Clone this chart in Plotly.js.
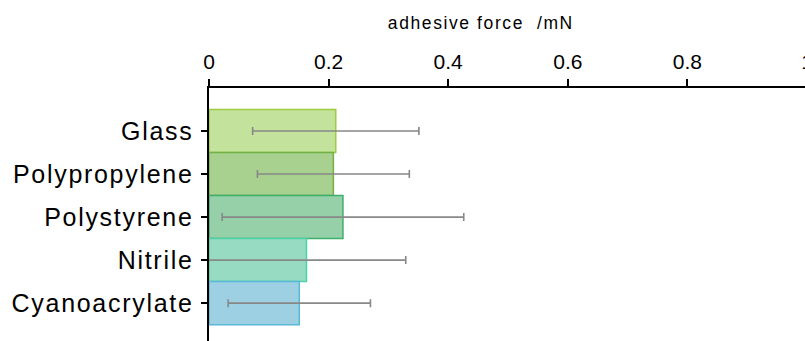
<!DOCTYPE html>
<html>
<head>
<meta charset="utf-8">
<script src="https://cdn.plot.ly/plotly-3.0.1.min.js"></script>
<style>
html,body{margin:0;padding:0;overflow:hidden;background:#fff;}
#chart{width:820px;height:341px;}
#chart .ytick text{letter-spacing:1.7px;}
#chart .annotation-text{letter-spacing:1.6px;}
</style>
</head>
<body>
<div id="chart"></div>
<script>
const categories = ["Glass", "Polypropylene", "Polystyrene", "Nitrile", "Cyanoacrylate"];
const forces = [0.212, 0.208, 0.224, 0.163, 0.151];
const errors = [0.139, 0.127, 0.202, 0.166, 0.119];
const xTicks = [0, 0.2, 0.4, 0.6, 0.8, 1];
const xTickLabels = ["0", "0.2", "0.4", "0.6", "0.8", "1"];
const xTitle = "adhesive force  /mN";
const fillColors = ["#c3e29c", "#a8d08f", "#96d0a9", "#97dbc2", "#9dd0e3"];
const lineColors = ["#9dcc3e", "#72b245", "#3daf6d", "#4fd0a9", "#58b8d5"];

const trace = {
  type: "bar",
  orientation: "h",
  y: categories,
  x: forces,
  marker: {color: fillColors, line: {color: lineColors, width: 1.5}},
  error_x: {type: "data", array: errors, visible: true, color: "#888888", thickness: 1.6, width: 4},
  width: 1,
  hoverinfo: "skip"
};

const FONT = "Liberation Sans, Arial, sans-serif";
const layout = {
  width: 820,
  height: 341,
  margin: {l: 209, r: 13, t: 88, b: 0, pad: 0},
  paper_bgcolor: "#ffffff",
  plot_bgcolor: "#ffffff",
  showlegend: false,
  bargap: 0,
  font: {family: FONT, color: "#000"},
  annotations: [{
    text: xTitle, xref: "paper", yref: "paper", x: 0.455, y: 1.255,
    xanchor: "center", yanchor: "middle", showarrow: false,
    font: {size: 17.5, family: FONT, color: "#000"}
  }],
  xaxis: {
    side: "top",
    range: [0, 1],
    tickvals: xTicks,
    ticktext: xTickLabels,
    ticks: "outside",
    ticklen: 7,
    tickwidth: 2,
    tickcolor: "#000",
    ticklabelstandoff: 1,
    showline: true,
    linewidth: 2.5,
    linecolor: "#000",
    showgrid: false,
    zeroline: false,
    tickfont: {size: 21, family: FONT, color: "#000"}
  },
  yaxis: {
    type: "category",
    range: [4.88, -1.0],
    ticks: "outside",
    ticklen: 6,
    tickwidth: 2.5,
    tickcolor: "#000",
    showline: true,
    linewidth: 2.5,
    linecolor: "#000",
    showgrid: false,
    zeroline: false,
    ticklabelstandoff: 2,
    tickfont: {size: 25, family: FONT, color: "#000"}
  }
};

Plotly.newPlot("chart", [trace], layout, {displayModeBar: false, staticPlot: true});
</script>
</body>
</html>
